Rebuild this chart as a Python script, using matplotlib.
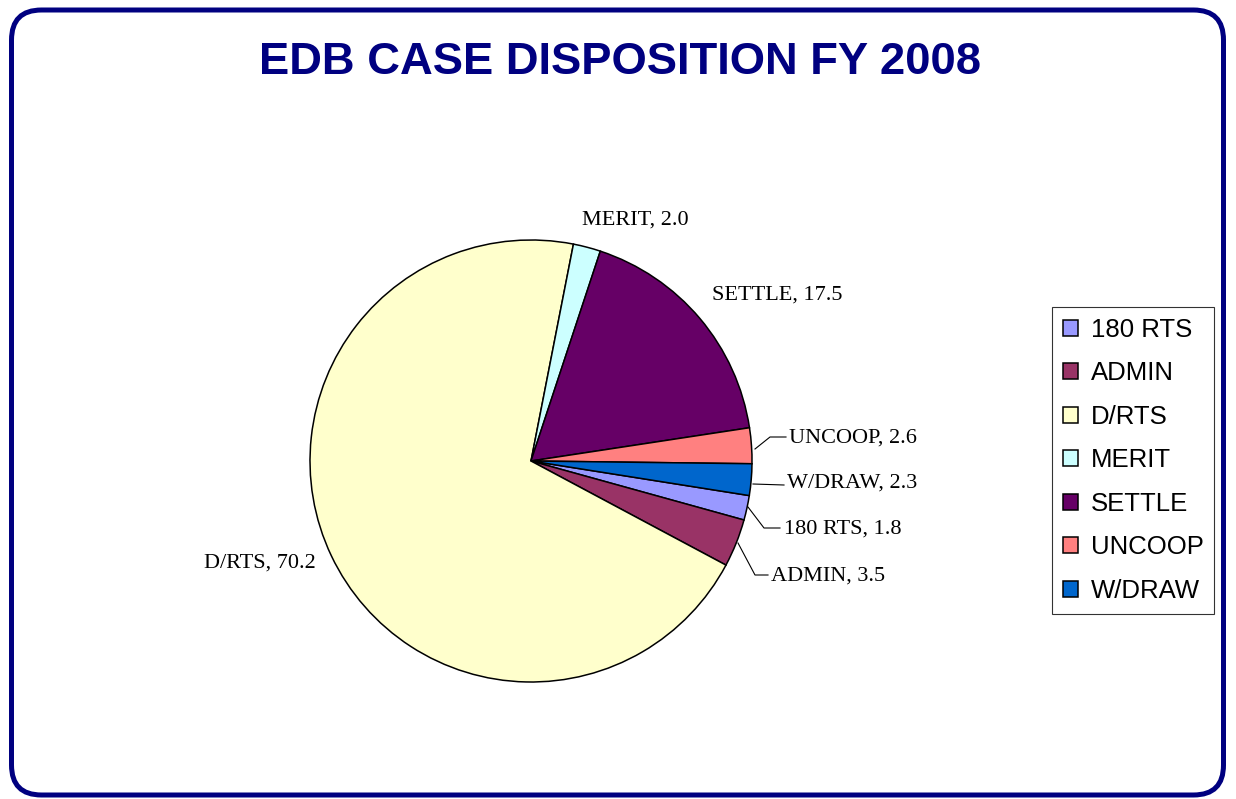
import numpy as np
import matplotlib.pyplot as plt
from matplotlib.patches import FancyBboxPatch

categories = ["180 RTS", "ADMIN", "D/RTS", "MERIT", "SETTLE", "UNCOOP", "W/DRAW"]
values = [1.8, 3.5, 70.2, 2.0, 17.5, 2.6, 2.3]
colors = ["#9999FF", "#993366", "#FFFFCC", "#CCFFFF", "#660066", "#FF8080", "#0066CC"]

W, H = 1236, 799
fig = plt.figure(figsize=(W / 100, H / 100), dpi=100)

# background frame (pixel coords)
bg = fig.add_axes([0, 0, 1, 1])
bg.set_xlim(0, W)
bg.set_ylim(H, 0)
bg.axis("off")
frame = FancyBboxPatch((11.5, 10), 1212, 785, boxstyle="round,pad=0,rounding_size=30",
                       fc="white", ec="#000080", lw=3.6)
bg.add_patch(frame)
bg.text(620, 63, "EDB CASE DISPOSITION FY 2008", ha="center", va="center",
        fontsize=32.7, fontweight="bold", color="#000080", family="Liberation Sans")

# pie: centre (531, 461), radius 221 px
cx, cy, r = 531, 461, 221
ax = fig.add_axes([(cx - r) / W, (H - cy - r) / H, 2 * r / W, 2 * r / H])
wedges, _ = ax.pie(values, colors=colors, startangle=-9, counterclock=False,
                   wedgeprops=dict(edgecolor="black", linewidth=1.1))
ax.set_xlim(-1, 1)
ax.set_ylim(-1, 1)
ax.set_aspect("equal")
ax.axis("off")

def px(x, y):
    return ((x - cx) / r, (cy - y) / r)

# label text anchor (pixels), alignment, leader line points (pixels)
labels = {
    "MERIT":   ((582, 220), "left", None),
    "SETTLE":  ((712, 295), "left", None),
    "UNCOOP":  ((789, 438), "left", [(755, 449), (770, 437), (786, 437)]),
    "W/DRAW":  ((787, 483), "left", [(753, 484), (784, 485)]),
    "180 RTS": ((784, 529), "left", [(748, 507), (764, 528), (780, 528)]),
    "ADMIN":   ((771, 576), "left", [(738, 543), (755, 575), (768, 575)]),
    "D/RTS":   ((316, 563), "right", None),
}
for name, val in zip(categories, values):
    (tx, ty), ha, line = labels[name]
    x, y = px(tx, ty)
    ax.text(x, y, f"{name}, {val:.1f}", ha=ha, va="center", fontsize=16,
            family="Liberation Serif", clip_on=False)
    if line:
        pts = np.array([px(a, b) for a, b in line])
        ax.plot(pts[:, 0], pts[:, 1], color="black", lw=0.8, clip_on=False)

leg = ax.legend(wedges, categories, loc="upper left",
                bbox_to_anchor=(1052 / W, 1 - 307 / H), bbox_transform=fig.transFigure,
                borderaxespad=0, frameon=True, fancybox=False, edgecolor="black",
                prop=dict(family="Liberation Sans", size=18.5),
                handlelength=0.58, handleheight=0.58, handletextpad=0.5,
                labelspacing=0.76, borderpad=0.42)
leg.get_frame().set_linewidth(0.8)

fig.savefig("out.png", dpi=100)
